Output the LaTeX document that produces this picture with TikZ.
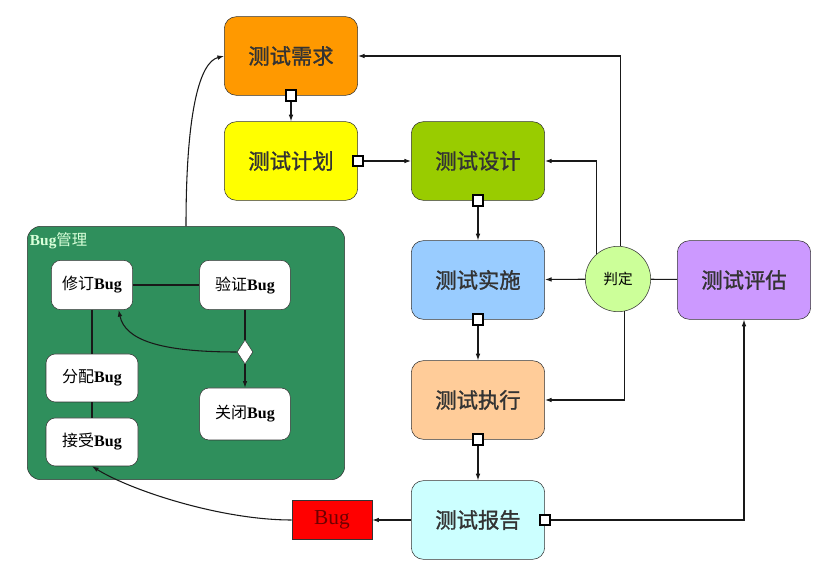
\documentclass[tikz,border=0pt]{standalone}
\usepackage{fontspec}
\setmainfont{Liberation Serif}
\newfontfamily\cjk{Noto Sans CJK SC}
\newfontfamily\cjkheavy[FakeBold=1.2]{Noto Sans CJK SC}
\usepackage{tikz}
\usetikzlibrary{arrows.meta,positioning,shapes.geometric}
\definecolor{reqorange}{RGB}{255,153,0}
\definecolor{planyellow}{RGB}{255,255,0}
\definecolor{designgreen}{RGB}{153,204,0}
\definecolor{implblue}{RGB}{153,204,255}
\definecolor{execpeach}{RGB}{255,204,153}
\definecolor{reportcyan}{RGB}{204,255,255}
\definecolor{evalviolet}{RGB}{204,153,255}
\definecolor{judgegreen}{RGB}{204,255,153}
\definecolor{mgmtgreen}{RGB}{47,143,92}
\definecolor{bugtext}{RGB}{110,0,0}
\newcommand\bugname[1]{{\cjk #1}\textbf{Bug}}

\begin{document}
\begin{tikzpicture}[x=0.75pt,y=-0.75pt,
      stage/.style={draw=black!80, rounded corners=9pt, minimum width=100pt, minimum height=59pt, font=\cjkheavy\fontsize{16}{18}\selectfont, text=black!80},
      bugbox/.style={draw=black!80, fill=white, rounded corners=7pt, minimum height=37pt, font=\fontsize{12}{14}\selectfont},
      port/.style={draw=black, line width=1.6pt, fill=white, minimum size=8pt, inner sep=0pt},
      arr/.style={draw=black!90, line width=0.8pt, -{Latex[length=5pt,width=3.5pt]}},
      link/.style={draw=black!90, line width=0.8pt}]
    \useasboundingbox (0,0) rectangle (833,573);
    % test stages
    \node[stage, fill=reqorange] (req) at (291,56) {测试需求};
    \node[stage, fill=planyellow] (plan) at (291,161) {测试计划};
    \node[stage, fill=designgreen] (design) at (478,161) {测试设计};
    \node[stage, fill=implblue] (impl) at (478,280) {测试实施};
    \node[stage, fill=execpeach] (exec) at (478,400) {测试执行};
    \node[stage, fill=reportcyan] (report) at (478,520) {测试报告};
    \node[stage, fill=evalviolet] (eval) at (744,280) {测试评估};
    \node[circle, draw=black!80, fill=judgegreen, minimum size=49pt, inner sep=0pt, font=\cjk\fontsize{11}{13}\selectfont] (judge) at (618,279) {判定};
    \node[draw=black!80, fill=red, minimum width=60pt, minimum height=29pt, text=bugtext, font=\fontsize{16}{18}\selectfont] (bug) at (332,520) {Bug};
    % bug management
    \node[draw=black!80, fill=mgmtgreen, rounded corners=10pt, minimum width=238pt, minimum height=190pt] (mgmt) at (186,353) {};
    \node[anchor=north west, inner sep=2pt, text=white!85!green, font=\fontsize{11.5}{13}\selectfont] (mgmtlab) at ([yshift=-3pt]mgmt.north west) {\textbf{Bug}{\cjk 管理}};
    \node[bugbox, minimum width=61pt] (fix) at (92,285) {\bugname{修订}};
    \node[bugbox, minimum width=68pt] (verify) at (245,285) {\bugname{验证}};
    \node[diamond, draw=black!80, fill=white, minimum width=12pt, minimum height=18pt, inner sep=0pt] (dec) at (245,352) {};
    \node[bugbox, minimum width=69pt, minimum height=36pt] (assign) at (92,378) {\bugname{分配}};
    \node[bugbox, minimum width=68pt, minimum height=39pt] (close) at (245,414) {\bugname{关闭}};
    \node[bugbox, minimum width=69pt, minimum height=36pt] (accept) at (92,442) {\bugname{接受}};
    % ports
    \node[port] (reqp) at (req.south) {};
    \node[port] (planp) at (plan.east) {};
    \node[port] (designp) at (design.south) {};
    \node[port] (implp) at (impl.south) {};
    \node[port] (execp) at (exec.south) {};
    \node[port] (reportp) at (report.east) {};
    % flow
    \draw[arr] (reqp) -- (plan);
    \draw[arr] (planp) -- (design);
    \draw[arr] (designp) -- (impl);
    \draw[arr] (implp) -- (exec);
    \draw[arr] (execp) -- (report);
    \draw[arr] (reportp) -| (eval);
    \draw[link] (eval) -- (judge);
    \draw[arr] (judge) -- (impl);
    \draw[arr] (judge.130) |- (design);
    \draw[arr] (judge.86) |- (req);
    \draw[arr] (judge.-78) |- (exec);
    \draw[arr] (report) -- (bug);
    \draw[arr] (bug.west) .. controls (220,520) and (130,490) .. (accept.south);
    \draw[arr] (mgmt.north) .. controls (186,110) and (200,62) .. (req.west);
    % inside bug management
    \draw[link] (fix) -- (verify);
    \draw[link] (verify) -- (dec);
    \draw[arr] (dec) -- (close);
    \draw[arr] (dec.west) .. controls (160,352) and (125,340) .. ([xshift=20pt]fix.south);
    \draw[link] (fix) -- (assign);
    \draw[link] (assign) -- (accept);
  \end{tikzpicture}
\end{document}
